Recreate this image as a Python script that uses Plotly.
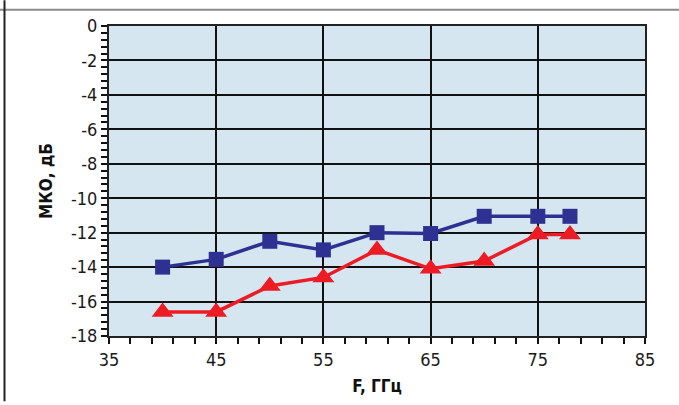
import plotly.graph_objects as go

# Frequency points, GHz
freq_ghz = [40, 45, 50, 55, 60, 65, 70, 75, 78]

# МКО, dB for the two measured configurations
mko_blue = [-14.0, -13.55, -12.5, -13.0, -12.0, -12.05, -11.05, -11.05, -11.05]
mko_red = [-16.6, -16.6, -15.1, -14.6, -13.0, -14.1, -13.65, -12.1, -12.1]

x_ticks = [35, 45, 55, 65, 75, 85]
y_ticks = [0, -2, -4, -6, -8, -10, -12, -14, -16, -18]

W, H = 679, 405
M_L, M_R, M_T, M_B = 109, 34, 26, 66

FONT = "Liberation Sans Narrow, DejaVu Sans Condensed, Arial Narrow, sans-serif"

fig = go.Figure()

fig.add_trace(go.Scatter(
    x=freq_ghz, y=mko_blue, mode="lines+markers",
    line=dict(color="#2e3192", width=3.5),
    marker=dict(symbol="square", size=15, color="#2e3192"),
    showlegend=False,
))
fig.add_trace(go.Scatter(
    x=freq_ghz, y=mko_red, mode="lines+markers",
    line=dict(color="#ed1c24", width=3.5),
    marker=dict(symbol="triangle-up", size=19, color="#ed1c24"),
    showlegend=False,
))

axis_common = dict(
    showgrid=True, gridcolor="#111111", gridwidth=1.5,
    showline=True, linecolor="#222222", linewidth=2, mirror=True,
    ticks="outside", ticklen=6, tickcolor="#111111", tickwidth=1.5,
    zeroline=False,
    tickfont=dict(family=FONT, size=18, color="#1a1a1a"),
)

fig.update_xaxes(
    range=[35, 85], tickvals=x_ticks, ticktext=[str(v) for v in x_ticks],
    minor=dict(ticks="outside", dtick=2, tick0=35, ticklen=6,
               tickcolor="#111111", tickwidth=1.5, showgrid=False),
    title=dict(text="<b>F, ГГц</b>", font=dict(family=FONT, size=17, color="#111111"),
               standoff=12),
    **axis_common,
)
fig.update_yaxes(
    range=[-18, 0], tickvals=y_ticks, ticktext=[str(v) for v in y_ticks],
    minor=dict(ticks="outside", dtick=0.4, tick0=0, ticklen=6,
               tickcolor="#111111", tickwidth=1.5, showgrid=False),
    title=dict(text="<b>МКО, дБ</b>", font=dict(family=FONT, size=17, color="#111111"),
               standoff=14),
    **axis_common,
)

pw = W - M_L - M_R
ph = H - M_T - M_B


def px_x(p):
    return (p - M_L) / pw


def px_y(p):
    return 1 - (p - M_T) / ph


# page frame: rule across the top and down the left side
fig.add_shape(type="line", xref="paper", yref="paper",
              x0=px_x(0), x1=px_x(W), y0=px_y(9.5), y1=px_y(9.5),
              line=dict(color="#8a8a8a", width=2))
fig.add_shape(type="line", xref="paper", yref="paper",
              x0=px_x(4.5), x1=px_x(4.5), y0=px_y(0), y1=px_y(H),
              line=dict(color="#222222", width=2))

fig.update_layout(
    width=W, height=H,
    margin=dict(l=M_L, r=M_R, t=M_T, b=M_B),
    plot_bgcolor="#d6e6f0",
    paper_bgcolor="white",
    font=dict(family=FONT),
)

fig.write_html("out.html")
